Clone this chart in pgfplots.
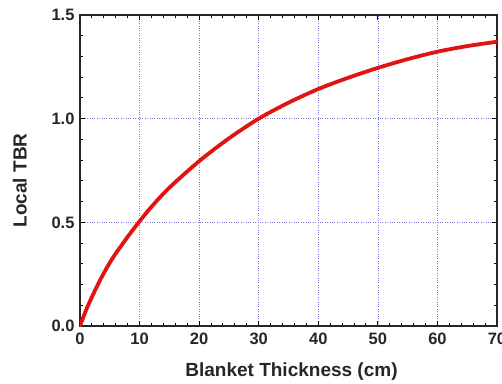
\documentclass[border=0pt]{standalone}
\usepackage{fontspec}
\setmainfont{Liberation Sans}
\usepackage{pgfplots}
\pgfplotsset{compat=1.18}
\definecolor{gridblue}{RGB}{125,125,225}
\definecolor{curvered}{RGB}{225,20,20}
\begin{document}
\begin{tikzpicture}
\begin{axis}[
  scale only axis,
  width=417pt, height=311pt,
  xmin=0, xmax=70, ymin=0, ymax=1.5,
  xtick={0,10,...,70},
  ytick={0,0.5,1.0,1.5},
  minor x tick num=4,
  minor y tick num=4,
  tick align=inside,
  major tick length=5pt,
  minor tick length=3pt,
  every tick/.style={black, line width=1pt},
  axis line style={line width=1.3pt, black!85},
  grid=major,
  major grid style={gridblue, dotted, line width=0.7pt},
  /pgf/number format/assume math mode=true,
  ticklabel style={font=\fontsize{16.5}{18}\selectfont\bfseries, text=black!85},
  yticklabel style={/pgf/number format/fixed, /pgf/number format/fixed zerofill, /pgf/number format/precision=1, xshift=-2pt},
  xticklabel style={yshift=-3.5pt},
  xlabel={Blanket Thickness (cm)},
  ylabel={Local TBR},
  label style={font=\fontsize{19}{22}\selectfont\bfseries, text=black!85, inner sep=0pt},
  xlabel style={at={(axis description cs:0.5,0)}, anchor=north, yshift=-37pt, xshift=3pt},
  ylabel style={at={(axis description cs:0,0.5)}, anchor=south, yshift=53pt, xshift=-10pt},
]
\addplot[curvered, line width=3.8pt, smooth, line cap=round] coordinates {
  (0,0) (1,0.075) (2,0.14) (3,0.2) (4,0.255) (5,0.305) (6,0.35) (7,0.39)
  (8,0.43) (9,0.468) (10,0.505) (12,0.575) (15,0.667) (20,0.795) (25,0.905)
  (30,1.0) (35,1.077) (40,1.143) (45,1.197) (50,1.245) (55,1.287)
  (60,1.323) (65,1.35) (70,1.371)
};
\end{axis}
\pgfresetboundingbox
\path (current axis.south west) ++(-80pt,-57pt) coordinate (bbA);
\path (current axis.south west) ++(422pt,326pt) coordinate (bbB);
\useasboundingbox (bbA) rectangle (bbB);
\end{tikzpicture}
\end{document}
